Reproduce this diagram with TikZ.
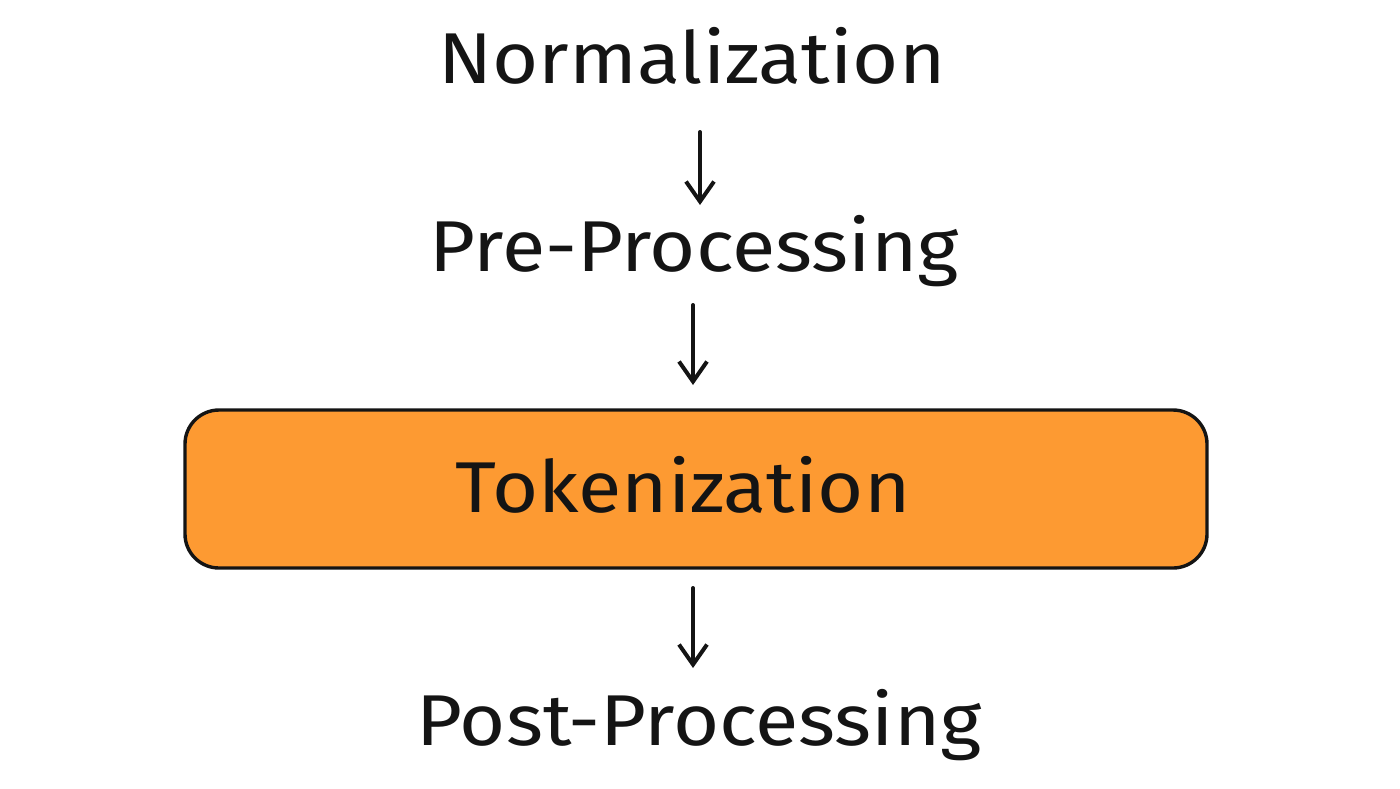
\documentclass[tikz,border=0pt]{standalone}
\usepackage{fontspec}
\setmainfont{Fira Sans}
\usetikzlibrary{arrows.meta}
\definecolor{boxorange}{HTML}{FD9A32}
\definecolor{ink}{HTML}{141414}
\tikzset{
  label text/.style={font=\fontsize{36}{43}\selectfont, text=ink, inner sep=0pt, xscale=1.1},
  flow/.style={draw=ink, line width=2pt, line cap=round, -{Straight Barb[length=10pt,width=14pt,line width=2pt]}},
  stagebox/.style={draw=ink, line width=1.7pt, fill=boxorange, rounded corners=17pt, minimum width=511pt, minimum height=79pt, inner sep=0pt}
}
\begin{document}
\begin{tikzpicture}[x=0.5pt,y=-0.5pt]
\useasboundingbox (0,0) rectangle (1400,788);
\node[label text] (norm) at (692,56) {Normalization};
\node[label text] (pre) at (694,251) {Pre-Processing};
\node[stagebox] (tok) at (696,489) {};
\node[label text] (toktext) at (683,485) {Tokenization};
\node[label text] (post) at (699,725) {Post-Processing};
\coordinate (a1s) at (700,132);
\coordinate (a1e) at (700,205);
\coordinate (a2s) at (693,305);
\coordinate (a2e) at (693,385);
\coordinate (a3s) at (693,588);
\coordinate (a3e) at (693,668);
\draw[flow] (a1s) -- (a1e);
\draw[flow] (a2s) -- (a2e);
\draw[flow] (a3s) -- (a3e);
\end{tikzpicture}
\end{document}
